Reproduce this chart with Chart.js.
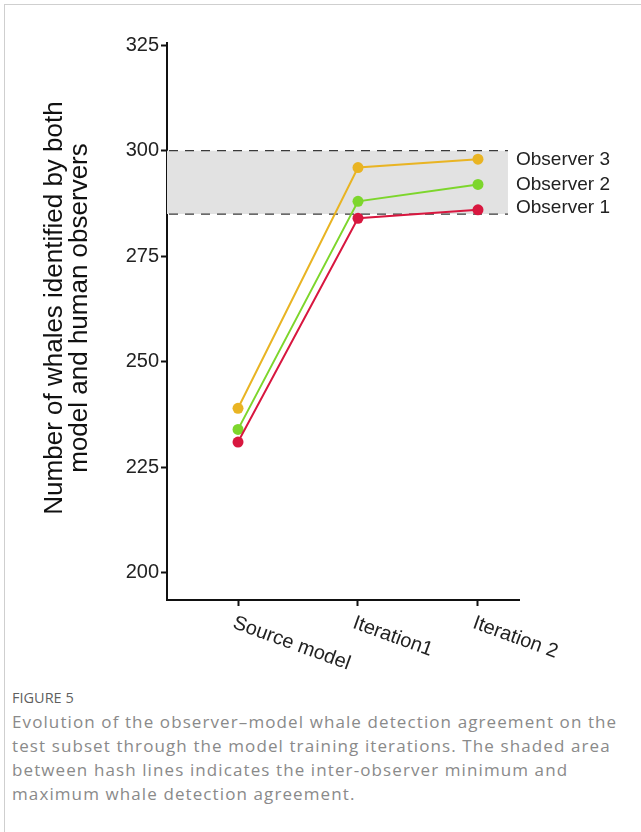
<!DOCTYPE html>
<html>
<head>
<meta charset="utf-8">
<script src="https://cdn.jsdelivr.net/npm/chart.js@4/dist/chart.umd.min.js"></script>
<style>
  html, body { margin: 0; padding: 0; background: #fff; }
  body { width: 641px; height: 832px; position: relative; overflow: hidden; }
  #frame {
    position: absolute; left: 4px; top: 4px; right: -2px; bottom: -2px;
    border-left: 1px solid #cfcfcf; border-top: 1px solid #cfcfcf;
  }
  #chart { position: absolute; left: 0; top: 0; }
  #caption {
    position: absolute; left: 12px; top: 686px; width: 629px;
    font-family: "Open Sans", "Noto Sans", sans-serif; color: #8a8a8a;
    white-space: nowrap;
  }
  #caption .fig { font-size: 14.5px; line-height: 24px; color: #5f5f5f; margin: 0; }
  #caption p { font-size: 17px; letter-spacing: 1.1px; line-height: 24px; margin: 0; }
</style>
</head>
<body>
<div id="frame"></div>
<canvas id="chart" width="641" height="680"></canvas>
<div id="caption">
  <div class="fig">FIGURE 5</div>
  <p>Evolution of the observer–model whale detection agreement on the<br>test subset through the model training iterations. The shaded area<br>between hash lines indicates the inter-observer minimum and<br>maximum whale detection agreement.</p>
</div>
<script>
/* global Chart */

// ─────────────────────────────────────────────
// DATA
// ─────────────────────────────────────────────
const CATEGORIES = ['Source model', 'Iteration1', 'Iteration 2'];
const OBSERVER_1 = [231, 284, 286];
const OBSERVER_2 = [234, 288, 292];
const OBSERVER_3 = [239, 296, 298];
const SERIES_NAMES = ['Observer 1', 'Observer 2', 'Observer 3'];
const BAND_MIN = 285;   // inter-observer minimum
const BAND_MAX = 300;   // inter-observer maximum
const Y_TICKS = [200, 225, 250, 275, 300, 325];
const Y_TITLE = ['Number of whales identified by both', 'model and human observers'];

// axis extents (category units / count units)
const X_MIN = -0.592, X_MAX = 2.342, BAND_END = 2.25;
const Y_MIN = 193.6, Y_MAX = 325.5;

const COLORS = {
  obs1: '#d8173f',
  obs2: '#7dd62c',
  obs3: '#e9b423',
  band: '#e2e2e2',
  dash: '#3a3a3a',
  axis: '#111111',
  text: '#222222'
};
const FONT = "'Liberation Sans', Arial, sans-serif";

const toPoints = arr => arr.map((v, i) => ({ x: i, y: v }));

function observerSet(label, values, color) {
  return {
    label,
    data: toPoints(values),
    borderColor: color,
    backgroundColor: color,
    borderWidth: 2,
    pointRadius: 5.5,
    pointBorderWidth: 0,
    pointBackgroundColor: color,
    fill: false,
    order: 1
  };
}

function bandLine(value, fill) {
  return {
    label: 'band' + value,
    data: [{ x: X_MIN, y: value }, { x: BAND_END, y: value }],
    borderColor: COLORS.dash,
    borderWidth: 1.3,
    borderDash: [9, 7],
    borderDashOffset: -2,
    pointRadius: 0,
    backgroundColor: COLORS.band,
    fill,
    order: 10
  };
}

// ─────────────────────────────────────────────
// TEXT PLUGIN — rotated category labels, series labels, y title
// ─────────────────────────────────────────────
const LABEL_NUDGE = [-2, 0, 1];   // small vertical nudges for end labels

const textPlugin = {
  id: 'figText',
  afterDraw(chart) {
    const { ctx, scales: { x } } = chart;
    ctx.save();
    ctx.fillStyle = COLORS.text;

    // category labels, rotated clockwise from the tick
    ctx.font = `20px ${FONT}`;
    ctx.textAlign = 'left';
    ctx.textBaseline = 'top';
    CATEGORIES.forEach((c, i) => {
      const px = x.getPixelForValue(i);
      ctx.save();
      ctx.translate(px - 1, 613);
      ctx.rotate(20 * Math.PI / 180);
      ctx.fillText(c, 0, 0);
      ctx.restore();
    });

    // series labels at end of each line
    ctx.font = `19px ${FONT}`;
    ctx.textBaseline = 'middle';
    [0, 1, 2].forEach(i => {
      const meta = chart.getDatasetMeta(i);
      const pt = meta.data[meta.data.length - 1];
      ctx.fillText(SERIES_NAMES[i], pt.x + 38, pt.y + LABEL_NUDGE[i]);
    });

    // y axis title (two lines, rotated)
    ctx.fillStyle = '#111';
    ctx.font = `26px ${FONT}`;
    ctx.textAlign = 'center';
    ctx.textBaseline = 'alphabetic';
    ctx.translate(0, 308);
    ctx.rotate(-Math.PI / 2);
    ctx.fillText(Y_TITLE[0], 0, 62);
    ctx.fillText(Y_TITLE[1], 0, 87);
    ctx.restore();
  }
};

// ─────────────────────────────────────────────
// CHART
// ─────────────────────────────────────────────
new Chart(document.getElementById('chart').getContext('2d'), {
  type: 'line',
  data: {
    datasets: [
      observerSet(SERIES_NAMES[0], OBSERVER_1, COLORS.obs1),
      observerSet(SERIES_NAMES[1], OBSERVER_2, COLORS.obs2),
      observerSet(SERIES_NAMES[2], OBSERVER_3, COLORS.obs3),
      bandLine(BAND_MAX, false),
      bandLine(BAND_MIN, '-1')
    ]
  },
  options: {
    responsive: false,
    animation: false,
    devicePixelRatio: 1,
    layout: { padding: { left: 0, top: 43, right: 122, bottom: 74 } },
    plugins: {
      legend: { display: false },
      tooltip: { enabled: false }
    },
    scales: {
      x: {
        type: 'linear',
        min: X_MIN,
        max: X_MAX,
        afterBuildTicks: s => { s.ticks = CATEGORIES.map((_, i) => ({ value: i })); },
        afterFit: s => { s.height = 6; },
        ticks: { display: false },
        grid: { drawOnChartArea: false, drawTicks: true, tickLength: 6, tickColor: COLORS.axis, tickWidth: 2 },
        border: { display: true, color: COLORS.axis, width: 2 }
      },
      y: {
        type: 'linear',
        min: Y_MIN,
        max: Y_MAX,
        afterBuildTicks: s => { s.ticks = Y_TICKS.map(v => ({ value: v })); },
        afterFit: s => { s.width = 167; },
        ticks: {
          color: COLORS.text,
          font: { family: FONT, size: 20 },
          padding: 2
        },
        grid: { drawOnChartArea: false, drawTicks: true, tickLength: 6, tickColor: COLORS.axis, tickWidth: 2 },
        border: { display: true, color: COLORS.axis, width: 2 }
      }
    }
  },
  plugins: [textPlugin]
});
</script>
</body>
</html>
